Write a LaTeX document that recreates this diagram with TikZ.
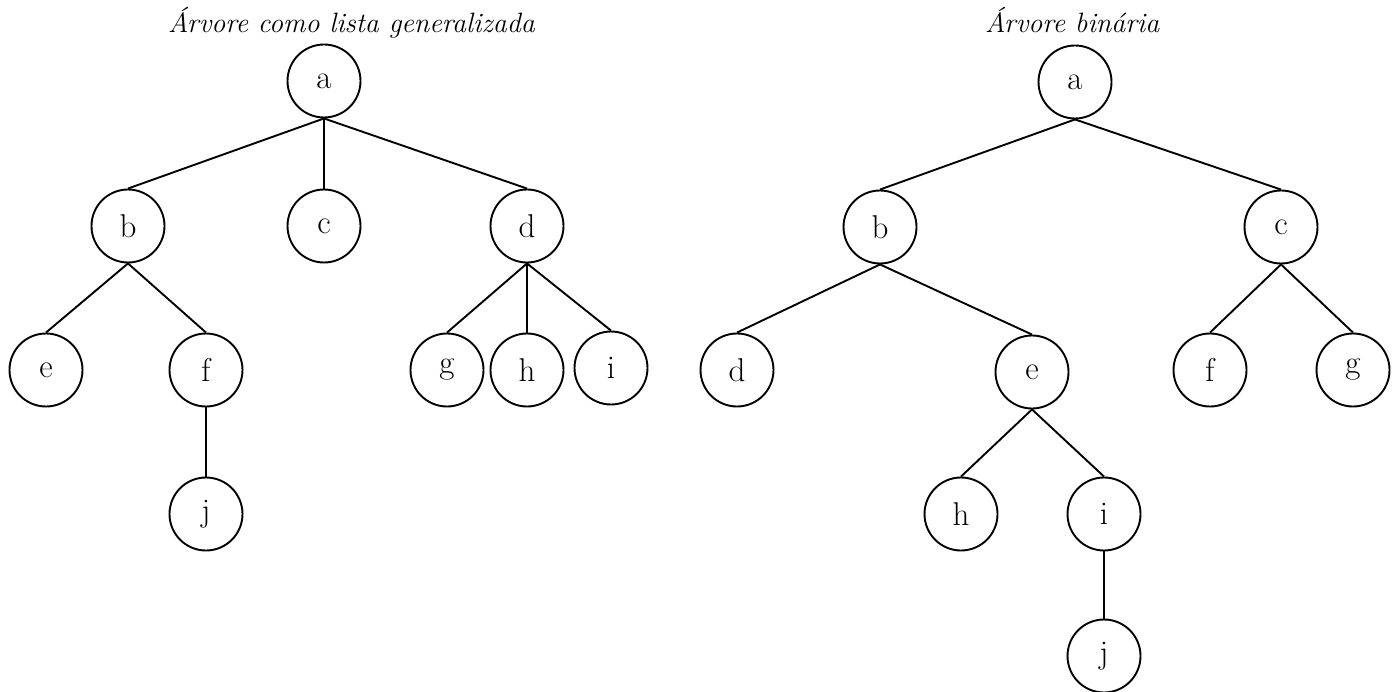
\documentclass[tikz,border=0pt]{standalone}
\begin{document}
\begin{tikzpicture}[x=1pt,y=-1pt,
  tn/.style={circle,draw,line width=1.9pt,minimum size=73pt,inner sep=0pt,font=\fontsize{33}{38}\selectfont},
  edge/.style={line width=1.9pt},
  ttl/.style={font=\fontsize{28}{32}\selectfont\itshape,inner sep=0pt,anchor=base west}]
\useasboundingbox (0,0) rectangle (1396,692);
% titles
\node[ttl] (t1) at (168,33) {Árvore como lista generalizada};
\node[ttl] (t2) at (985,33) {Árvore binária};
% left tree
\node[tn] (La) at (324,81) {a};
\node[tn] (Lb) at (128,226) {b};
\node[tn] (Lc) at (324,226) {c};
\node[tn] (Ld) at (527,226) {d};
\node[tn] (Le) at (46,370) {e};
\node[tn] (Lf) at (206,370) {f};
\node[tn] (Lg) at (447,370) {g};
\node[tn] (Lh) at (527,370) {h};
\node[tn] (Li) at (611,368) {i};
\node[tn] (Lj) at (206,514) {j};
\foreach \p/\c in {La/Lb,La/Lc,La/Ld,Lb/Le,Lb/Lf,Lf/Lj,Ld/Lg,Ld/Lh,Ld/Li}
  \draw[edge] (\p.south) -- (\c.north);
% right tree
\node[tn] (Ra) at (1075,82) {a};
\node[tn] (Rb) at (880,227) {b};
\node[tn] (Rc) at (1281,227) {c};
\node[tn] (Rd) at (737,370) {d};
\node[tn] (Re) at (1032,372) {e};
\node[tn] (Rf) at (1210,370) {f};
\node[tn] (Rg) at (1353,370) {g};
\node[tn] (Rh) at (961,514) {h};
\node[tn] (Ri) at (1104,514) {i};
\node[tn] (Rj) at (1104,656) {j};
\foreach \p/\c in {Ra/Rb,Ra/Rc,Rb/Rd,Rb/Re,Rc/Rf,Rc/Rg,Re/Rh,Re/Ri,Ri/Rj}
  \draw[edge] (\p.south) -- (\c.north);
\end{tikzpicture}
\end{document}
